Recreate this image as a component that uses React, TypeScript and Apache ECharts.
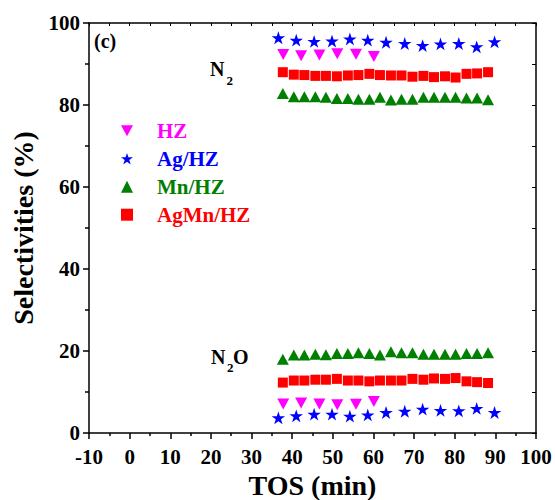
import React, { useEffect, useRef } from "react";
import * as echarts from "echarts";

// TOS (min) sampling times
const hzTime = [37.8, 42.2, 46.7, 51.1, 55.7, 60.1];
const agTime = [36.6, 41.0, 45.4, 49.8, 54.2, 58.6, 63.1, 67.7, 72.1, 76.5, 81.0, 85.4, 89.8];
const mnTime = [37.7, 40.4, 43.0, 45.7, 48.3, 51.0, 53.7, 56.3, 59.0, 61.6, 64.3, 66.9, 69.6, 72.3, 74.9, 77.6, 80.2, 82.9, 85.5, 88.2];
const agMnTime = [37.7, 40.4, 43.0, 45.7, 48.3, 51.0, 53.7, 56.3, 59.0, 61.6, 64.3, 66.9, 69.6, 72.3, 74.9, 77.6, 80.2, 82.9, 85.5, 88.2];

// N2 selectivities (%)
const hzN2 = [92.3, 92.0, 92.2, 92.5, 92.4, 91.8];
const agN2 = [96.4, 95.8, 95.5, 95.6, 96.1, 95.8, 95.3, 95.0, 94.5, 94.9, 95.0, 94.2, 95.4];
const mnN2 = [82.8, 82.0, 82.0, 82.0, 81.9, 81.6, 81.6, 81.4, 81.4, 81.9, 81.2, 81.4, 81.4, 81.9, 81.9, 81.9, 81.9, 81.7, 81.7, 81.3];
const agMnN2 = [88.0, 87.4, 87.3, 87.1, 87.1, 87.0, 87.2, 87.3, 87.6, 87.3, 87.2, 87.2, 86.9, 87.1, 86.8, 87.0, 86.7, 87.6, 87.7, 88.0];

// N2O selectivities (%)
const hzN2O = [7.1, 7.3, 7.1, 6.9, 7.0, 7.7];
const agN2O = [3.7, 4.2, 4.6, 4.6, 4.1, 4.4, 5.0, 5.3, 5.8, 5.5, 5.4, 6.0, 5.0];
const mnN2O = [18.0, 19.0, 19.0, 19.2, 19.1, 19.4, 19.4, 19.6, 19.4, 19.0, 19.8, 19.6, 19.6, 19.2, 19.2, 19.2, 19.2, 19.4, 19.4, 19.6];
const agMnN2O = [12.3, 12.8, 12.8, 13.0, 13.0, 13.2, 12.8, 12.8, 12.6, 12.8, 12.8, 12.8, 13.2, 13.0, 13.3, 13.2, 13.4, 12.6, 12.4, 12.2];

const seriesNames = ["HZ", "Ag/HZ", "Mn/HZ", "AgMn/HZ"];
const seriesColors = ["#FF00FF", "#0000FF", "#008000", "#FF0000"];

const STAR =
  "path://M50,0 L61.23,34.55 L97.55,34.55 L68.17,55.9 L79.39,90.45 L50,69.1 L20.61,90.45 L31.83,55.9 L2.45,34.55 L38.77,34.55 Z";
const DOWN_TRI = "path://M0,0 L10,0 L5,9.2 Z";

const FONT = "'Times New Roman', 'Liberation Serif', serif";

function pts(t: number[], a: number[], b: number[]) {
  return [...t.map((x, i) => [x, a[i]]), ...t.map((x, i) => [x, b[i]])];
}

export default function App() {
  const ref = useRef<HTMLDivElement>(null);
  useEffect(() => {
    document.body.style.margin = "0";
    if (!ref.current) return;
    const chart = echarts.init(ref.current, null, { renderer: "svg" });
    const symbols = [DOWN_TRI, STAR, "triangle", "rect"];
    const sizes: any[] = [[12, 11], [13.5, 12.8], [12, 11], [10, 10]];
    const data = [
      pts(hzTime, hzN2, hzN2O),
      pts(agTime, agN2, agN2O),
      pts(mnTime, mnN2, mnN2O),
      pts(agMnTime, agMnN2, agMnN2O),
    ];
    const tickLabel = { fontSize: 21, fontWeight: "bold", color: "#000", fontFamily: FONT };
    const axisLine = { show: true, onZero: false, lineStyle: { color: "#000", width: 1.5 } };
    chart.setOption({
      animation: false,
      grid: { left: 89, right: 19, top: 23, bottom: 67, containLabel: false, outerBoundsMode: "none" },
      legend: {
        orient: "vertical",
        left: 116,
        top: 114.7,
        itemWidth: 12,
        itemHeight: 12,
        itemGap: 6,
        textStyle: { fontSize: 21, fontWeight: "bold", fontFamily: FONT, lineHeight: 22, padding: [0, 0, 0, 19] },
        data: seriesNames.map((n, i) => ({ name: n, icon: symbols[i], textStyle: { color: seriesColors[i] } })),
      },
      xAxis: [
        {
          type: "value",
          position: "bottom",
          min: -10,
          max: 100,
          interval: 10,
          axisLine,
          axisTick: { show: true, inside: false, length: 6, lineStyle: { color: "#000", width: 1.5 } },
          minorTick: { show: true, splitNumber: 2, length: 3, lineStyle: { color: "#000", width: 1.5 } },
          splitLine: { show: false },
          axisLabel: { ...tickLabel, margin: 13 },
          name: "TOS (min)",
          nameLocation: "middle",
          nameGap: 35,
          nameTextStyle: { fontSize: 28, fontWeight: "bold", color: "#000", fontFamily: FONT },
        },
        {
          type: "value",
          position: "top",
          min: -10,
          max: 100,
          interval: 5,
          axisLine,
          axisTick: { show: true, inside: true, length: 3, lineStyle: { color: "#000", width: 1 } },
          axisLabel: { show: false },
          splitLine: { show: false },
        },
      ],
      yAxis: [
        {
          type: "value",
          position: "left",
          min: 0,
          max: 100,
          interval: 20,
          axisLine,
          axisTick: { show: true, inside: false, length: 6, lineStyle: { color: "#000", width: 1.5 } },
          minorTick: { show: true, splitNumber: 2, length: 4, lineStyle: { color: "#000", width: 1.5 } },
          splitLine: { show: false },
          axisLabel: { ...tickLabel, margin: 9 },
          name: "Selectivities (%)",
          nameLocation: "middle",
          nameGap: 47,
          nameTextStyle: { fontSize: 28, fontWeight: "bold", color: "#000", fontFamily: FONT },
        },
        {
          type: "value",
          position: "right",
          min: 0,
          max: 100,
          interval: 10,
          axisLine,
          axisTick: { show: true, inside: true, length: 4, lineStyle: { color: "#000", width: 1 } },
          axisLabel: { show: false },
          splitLine: { show: false },
        },
      ],
      graphic: [
        { type: "text", left: 94, top: 31, style: { text: "(c)", fontSize: 20, fontWeight: "bold", fontFamily: FONT, fill: "#000" } },
        { type: "text", x: 210, y: 69, style: { text: "N", fontSize: 20, fontWeight: "bold", fontFamily: FONT, fill: "#000", verticalAlign: "middle" } },
        { type: "text", x: 226.5, y: 80, style: { text: "2", fontSize: 13, fontWeight: "bold", fontFamily: FONT, fill: "#000", verticalAlign: "middle" } },
        { type: "text", x: 211, y: 357, style: { text: "N", fontSize: 20, fontWeight: "bold", fontFamily: FONT, fill: "#000", verticalAlign: "middle" } },
        { type: "text", x: 227, y: 367.5, style: { text: "2", fontSize: 13, fontWeight: "bold", fontFamily: FONT, fill: "#000", verticalAlign: "middle" } },
        { type: "text", x: 233, y: 357, style: { text: "O", fontSize: 20, fontWeight: "bold", fontFamily: FONT, fill: "#000", verticalAlign: "middle" } },
      ],
      series: seriesNames.map((n, i) => ({
        name: n,
        type: "scatter",
        xAxisIndex: 0,
        yAxisIndex: 0,
        symbol: symbols[i],
        symbolSize: sizes[i],
        itemStyle: { color: seriesColors[i], opacity: 1 },
        data: data[i],
      })),
    });
    return () => chart.dispose();
  }, []);
  return <div ref={ref} style={{ width: 555, height: 500 }} />;
}
